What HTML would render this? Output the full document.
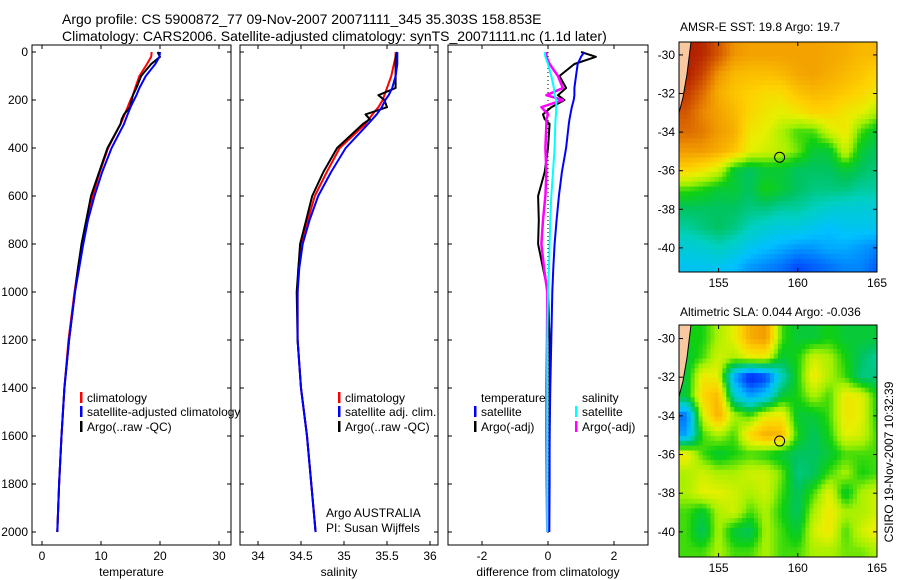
<!DOCTYPE html>
<html><head><meta charset="utf-8"><style>
html,body{margin:0;padding:0;background:#fff;}
svg{display:block;font-family:"Liberation Sans",sans-serif;}
</style></head><body>
<svg id="fig" width="900" height="580" viewBox="0 0 900 580" xmlns="http://www.w3.org/2000/svg">
<rect width="900" height="580" fill="#fff"/>
<text x="62" y="24" font-size="14">Argo profile: CS 5900872_77 09-Nov-2007 20071111_345 35.303S 158.853E</text>
<text x="62" y="41" font-size="14">Climatology: CARS2006. Satellite-adjusted climatology: synTS_20071111.nc (1.1d later)</text>
<g id="plots"></g>
<text x="680" y="31" font-size="12">AMSR-E SST: 19.8 Argo: 19.7</text>
<text x="680" y="316" font-size="12">Altimetric SLA: 0.044  Argo: -0.036</text>
<text transform="translate(893,462) rotate(-90)" font-size="12" text-anchor="middle">CSIRO 19-Nov-2007 10:32:39</text>
</svg>
<script>
// ---- profile data ----
const depths = [0,20,50,100,150,180,200,230,260,280,300,400,500,600,700,800,900,1000,1200,1400,1600,1800,2000];
const tempClim = [18.6,18.5,17.8,16.5,15.8,15.4,15.0,14.5,14.0,13.7,13.3,11.2,9.8,8.6,7.6,6.8,6.1,5.5,4.5,3.8,3.3,2.9,2.6];
const tempSat  = [20.0,19.9,19.2,17.6,16.5,16.0,15.6,15.0,14.5,14.2,13.9,11.8,10.2,8.9,7.8,7.0,6.3,5.6,4.6,3.8,3.3,2.9,2.6];
const tempArgo = [19.6,20.0,18.5,16.8,16.0,15.4,15.2,14.9,13.9,13.5,13.3,11.1,9.7,8.3,7.5,6.7,6.1,5.6,4.6,3.8,3.3,2.9,2.6];
const salClim = [35.60,35.60,35.58,35.55,35.50,35.47,35.45,35.40,35.33,35.29,35.25,34.95,34.80,34.66,34.58,34.50,34.47,34.46,34.46,34.50,34.57,34.62,34.67];
const salSat  = [35.62,35.62,35.62,35.60,35.56,35.52,35.48,35.44,35.38,35.33,35.28,35.02,34.85,34.70,34.60,34.52,34.48,34.46,34.46,34.50,34.57,34.62,34.67];
const salArgo = [35.62,35.60,35.60,35.60,35.60,35.40,35.47,35.50,35.25,35.30,35.22,34.92,34.76,34.63,34.56,34.49,34.47,34.45,34.46,34.50,34.57,34.62,34.67];
const diffTempSat  = [1.1,1.0,0.9,0.85,0.8,0.8,0.78,0.72,0.68,0.65,0.63,0.55,0.42,0.33,0.26,0.2,0.16,0.13,0.1,0.07,0.05,0.05,0.04];
const diffTempArgo = [1.0,1.45,0.8,0.35,0.55,0.3,0.5,0.1,-0.15,-0.1,0.05,0.0,-0.1,-0.3,-0.28,-0.3,-0.15,0.0,0.05,0.05,0.05,0.04,0.03];
const diffSalSat   = [-0.1,-0.08,0.0,0.1,0.18,0.2,0.25,0.25,0.24,0.23,0.22,0.2,0.15,0.1,0.07,0.05,0.03,0.0,-0.02,-0.02,-0.02,-0.02,-0.02];
const diffSalArgo  = [-0.05,-0.05,0.05,0.3,0.45,-0.05,0.45,-0.2,0.0,-0.05,-0.05,-0.08,-0.05,-0.08,-0.15,-0.2,-0.12,-0.02,-0.03,-0.05,-0.05,-0.04,-0.02];
const depthTicks = [0,200,400,600,800,1000,1200,1400,1600,1800,2000];
const tempTicks = [0,10,20,30];
const salTicks = [34,34.5,35,35.5,36];
const salTickLabels = ["34","34.5","35","35.5","36"];
const diffTicks = [-2,0,2];
// ---- map data (index 0..1), rows lat -30..-41, cols lon 153..165 ----
const mapLons = [153,154,155,156,157,158,159,160,161,162,163,164,165];
const mapLats = [-30,-31,-32,-33,-34,-35,-36,-37,-38,-39,-40,-41];
const sstGrid = [
[0.95,0.93,0.85,0.76,0.74,0.74,0.74,0.74,0.74,0.73,0.72,0.7,0.7],
[0.95,0.88,0.76,0.7,0.69,0.69,0.7,0.73,0.74,0.72,0.7,0.68,0.65],
[0.9,0.82,0.72,0.68,0.66,0.64,0.64,0.68,0.7,0.69,0.67,0.65,0.62],
[0.85,0.78,0.74,0.7,0.65,0.62,0.6,0.62,0.65,0.65,0.62,0.6,0.55],
[0.82,0.8,0.75,0.72,0.62,0.6,0.55,0.5,0.5,0.58,0.62,0.5,0.45],
[0.75,0.75,0.72,0.68,0.6,0.58,0.56,0.52,0.45,0.45,0.58,0.45,0.42],
[0.65,0.62,0.58,0.45,0.42,0.45,0.45,0.42,0.42,0.42,0.45,0.42,0.4],
[0.5,0.48,0.45,0.45,0.42,0.48,0.45,0.42,0.4,0.4,0.4,0.38,0.38],
[0.42,0.42,0.42,0.42,0.4,0.4,0.38,0.38,0.36,0.34,0.33,0.33,0.33],
[0.38,0.4,0.42,0.4,0.36,0.34,0.32,0.32,0.3,0.28,0.3,0.3,0.3],
[0.33,0.34,0.36,0.34,0.3,0.28,0.26,0.24,0.24,0.26,0.26,0.24,0.22],
[0.3,0.3,0.3,0.28,0.24,0.22,0.2,0.16,0.18,0.2,0.22,0.22,0.18]];
const slaGrid = [
[0.48,0.48,0.55,0.6,0.72,0.75,0.5,0.45,0.45,0.48,0.45,0.45,0.45],
[0.45,0.5,0.58,0.55,0.6,0.6,0.45,0.48,0.58,0.55,0.48,0.42,0.38],
[0.45,0.62,0.6,0.25,0.1,0.15,0.35,0.48,0.62,0.55,0.5,0.4,0.4],
[0.45,0.65,0.7,0.35,0.25,0.3,0.45,0.48,0.55,0.5,0.62,0.6,0.48],
[0.2,0.58,0.72,0.55,0.5,0.6,0.62,0.45,0.45,0.5,0.62,0.6,0.48],
[0.25,0.5,0.55,0.5,0.65,0.72,0.7,0.48,0.42,0.48,0.6,0.58,0.5],
[0.62,0.5,0.45,0.48,0.5,0.48,0.45,0.42,0.42,0.45,0.5,0.5,0.5],
[0.55,0.58,0.55,0.55,0.58,0.58,0.52,0.4,0.42,0.5,0.55,0.48,0.5],
[0.55,0.6,0.6,0.58,0.55,0.58,0.5,0.42,0.5,0.6,0.45,0.55,0.58],
[0.5,0.45,0.55,0.58,0.5,0.55,0.48,0.42,0.55,0.62,0.55,0.55,0.58],
[0.5,0.42,0.55,0.45,0.42,0.55,0.5,0.45,0.58,0.62,0.5,0.58,0.62],
[0.5,0.5,0.55,0.5,0.5,0.55,0.5,0.5,0.55,0.55,0.52,0.52,0.55]];
const floatLon = 158.853, floatLat = -35.303;
const mapLonTicks = [155,160,165];
const mapLatTicks = [-30,-32,-34,-36,-38,-40];

const NS="http://www.w3.org/2000/svg";
const root=document.getElementById('plots');
function mk(tag,attrs,parent){const e=document.createElementNS(NS,tag);for(const k in attrs)e.setAttribute(k,attrs[k]);(parent||root).appendChild(e);return e;}
function txt(x,y,s,size,anchor,parent){const t=mk('text',{x:x,y:y,'font-size':size,'text-anchor':anchor||'start'},parent);t.textContent=s;return t;}

const yTop=52, yScale=0.24, pBottom=545, frameTop=45;
const yOf=d=>yTop+d*yScale;
const panels=[
 {name:'temperature',x0:32,x1:231,xOf:v=>42+v*5.9,ticks:tempTicks,labels:tempTicks.map(String),title:'temperature'},
 {name:'salinity',x0:240,x1:438,xOf:v=>258+(v-34)*86,ticks:salTicks,labels:salTickLabels,title:'salinity'},
 {name:'difference',x0:448,x1:648,xOf:v=>548+v*33,ticks:diffTicks,labels:diffTicks.map(String),title:'difference from climatology'}];

panels.forEach((p,i)=>{
  const g=mk('g',{});
  
  
  const fr=mk('rect',{x:p.x0,y:frameTop,width:p.x1-p.x0,height:pBottom-frameTop,fill:'none',stroke:'#000','stroke-width':1},g);
  
  
  depthTicks.forEach(d=>{
    mk('line',{x1:p.x0,x2:p.x0+4,y1:yOf(d),y2:yOf(d),stroke:'#000'},g);
    mk('line',{x1:p.x1-4,x2:p.x1,y1:yOf(d),y2:yOf(d),stroke:'#000'},g);
    if(i===0){const t=txt(28,yOf(d)+4,String(d),12,'end',g);
      
      }
  });
  p.ticks.forEach((v,k)=>{
    const x=p.xOf(v);
    mk('line',{x1:x,x2:x,y1:pBottom,y2:pBottom-4,stroke:'#000'},g);
    mk('line',{x1:x,x2:x,y1:frameTop,y2:frameTop+4,stroke:'#000'},g);
    const t=txt(x,560,p.labels[k],12,'middle',g);
    
    
  });
  const tt=txt((p.x0+p.x1)/2,576,p.title,12,'middle',g);
  
  
});

function line(p,vals,color,name,w){
  const pts=vals.map((v,k)=>p.xOf(v).toFixed(1)+','+yOf(depths[k]).toFixed(1)).join(' ');
  const l=mk('polyline',{points:pts,fill:'none',stroke:color,'stroke-width':w||2,'stroke-linejoin':'round'});
  
  
}
const zl=mk('line',{x1:panels[2].xOf(0),x2:panels[2].xOf(0),y1:yTop,y2:pBottom-10,stroke:'#000','stroke-dasharray':'1,3'});


line(panels[0],tempClim,'#f00','temp-climatology-line');
line(panels[0],tempArgo,'#000','temp-argo-line');
line(panels[0],tempSat,'#00f','temp-satellite-line');
line(panels[1],salClim,'#f00','sal-climatology-line');
line(panels[1],salArgo,'#000','sal-argo-line');
line(panels[1],salSat,'#00f','sal-satellite-line');
line(panels[2],diffTempArgo,'#000','diff-temp-argo-line');
line(panels[2],diffSalArgo,'#f0f','diff-sal-argo-line',2.5);
line(panels[2],diffTempSat,'#00f','diff-temp-satellite-line');
line(panels[2],diffSalSat,'#0ff','diff-sal-satellite-line');

function legend(x,rows,name){
  const g=mk('g',{});
  
  
  const ys=[402,416,431];
  rows.forEach((r,k)=>{
    if(r[1]) mk('rect',{x:x,y:ys[k]-10,width:2.5,height:11,fill:r[1]},g);
    const t=txt(x+7,ys[k],r[0],12,'start',g);
    
    
  });
}
legend(80,[['climatology','#f00'],['satellite-adjusted climatology','#00f'],['Argo(..raw -QC)','#000']],'temperature-legend');
legend(338,[['climatology','#f00'],['satellite adj. clim.','#00f'],['Argo(..raw -QC)','#000']],'salinity-legend');
legend(474,[['temperature',null],['satellite','#00f'],['Argo(-adj)','#000']],'diff-temperature-legend');
legend(575,[['salinity',null],['satellite','#0ff'],['Argo(-adj)','#f0f']],'diff-salinity-legend');
const a1=txt(326,517,'Argo AUSTRALIA',12);
const a2=txt(326,532,'PI: Susan Wijffels',12);

// ---- maps ----
const cmapStops=[[0,[0,0,143]],[0.15,[0,64,255]],[0.28,[0,192,255]],[0.36,[0,208,192]],[0.42,[0,196,96]],[0.48,[16,208,16]],[0.54,[160,240,0]],[0.6,[230,240,0]],[0.66,[255,208,0]],[0.76,[240,150,0]],[0.86,[208,80,0]],[1,[160,0,0]]];
function cmap(v){for(let i=1;i<cmapStops.length;i++){const a=cmapStops[i-1],b=cmapStops[i];if(v<=b[0]){const t=(v-a[0])/(b[0]-a[0]);return 'rgb('+a[1].map((c,j)=>Math.round(c+(b[1][j]-c)*t)).join(',')+')';}}return 'rgb(160,0,0)';}
function sample(grid,lon,lat){
  let c=(lon-mapLons[0]), r=(mapLats[0]-lat);
  c=Math.max(0,Math.min(mapLons.length-1.001,c)); r=Math.max(0,Math.min(mapLats.length-1.001,r));
  const c0=Math.floor(c), r0=Math.floor(r), fc=c-c0, fr=r-r0;
  const v00=grid[r0][c0], v01=grid[r0][c0+1], v10=grid[r0+1][c0], v11=grid[r0+1][c0+1];
  return v00*(1-fc)*(1-fr)+v01*fc*(1-fr)+v10*(1-fc)*fr+v11*fc*fr;
}
function drawMap(grid,top,bottom,latTop,latBot,name){
  const x0=679,x1=877,lonL=152.5,lonR=165;
  const xOf=lon=>x0+(lon-lonL)/(lonR-lonL)*(x1-x0);
  const yOfL=lat=>top+(latTop-lat)/(latTop-latBot)*(bottom-top);
  const g=mk('g',{});
  
  
  const cp=mk('clipPath',{id:'clip-'+name},g); mk('rect',{x:x0,y:top,width:x1-x0,height:bottom-top},cp);
  const cg=mk('g',{'clip-path':'url(#clip-'+name+')'},g);
  const step=0.25;
  for(let lat=latTop;lat>latBot-step;lat-=step){
    for(let lon=lonL;lon<lonR;lon+=step){
      const v=sample(grid,lon+step/2,lat-step/2);
      const cell=mk('rect',{x:xOf(lon)-0.2,y:yOfL(lat)-0.2,width:xOf(lon+step)-xOf(lon)+0.4,height:yOfL(lat-step)-yOfL(lat)+0.4,fill:cmap(v)},cg);
      
      
    }
  }
  const land=mk('polygon',{points:[[x0,top],[x0+12,top],[x0+8,yOfL(-31)],[x0+4,yOfL(-32.2)],[x0,yOfL(-33)]].map(p=>p.join(',')).join(' '),fill:'#f8c8a0',stroke:'#000','stroke-width':1},cg);
  
  
  const ci=mk('circle',{cx:xOf(floatLon),cy:yOfL(floatLat),r:5,fill:'none',stroke:'#000','stroke-width':1},g);
  
  
  mk('rect',{x:x0,y:top,width:x1-x0,height:bottom-top,fill:'none',stroke:'#000'},g);
  mapLatTicks.forEach(lat=>{const y=yOfL(lat);
    mk('line',{x1:x0,x2:x0+4,y1:y,y2:y,stroke:'#000'},g);mk('line',{x1:x1-4,x2:x1,y1:y,y2:y,stroke:'#000'},g);
    const t=txt(x0-4,y+4,String(lat),12,'end',g);});
  mapLonTicks.forEach(lon=>{const x=xOf(lon);
    mk('line',{x1:x,x2:x,y1:bottom,y2:bottom-4,stroke:'#000'},g);mk('line',{x1:x,x2:x,y1:top,y2:top+4,stroke:'#000'},g);
    const t=txt(x,bottom+15,String(lon),12,'middle',g);});
}
drawMap(sstGrid,42,272,-29.33,-41.25,'sst-map');
drawMap(slaGrid,325,557,-29.3,-41.3,'sla-map');
</script>
</body></html>
